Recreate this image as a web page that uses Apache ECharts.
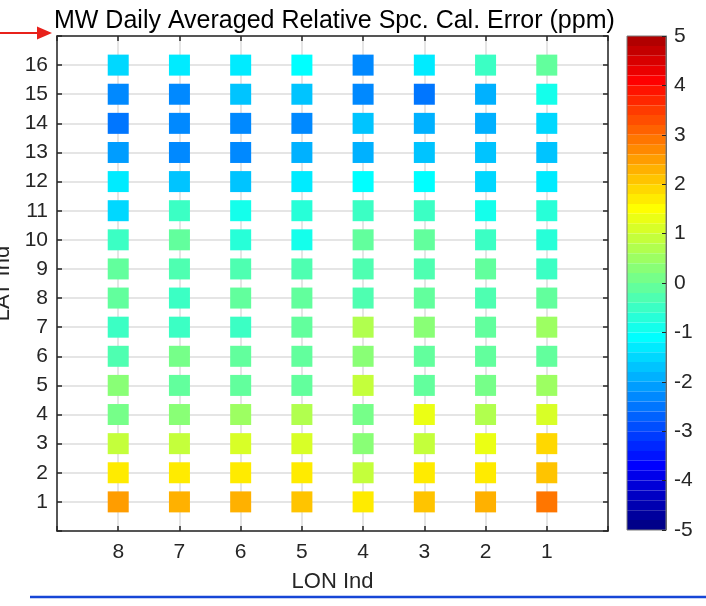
<!DOCTYPE html>
<html>
<head>
<meta charset="utf-8">
<script src="https://cdn.jsdelivr.net/npm/echarts@6/dist/echarts.min.js"></script>
<style>
  html, body { margin: 0; padding: 0; background: #fff; }
  #chart { width: 706px; height: 606px; }
</style>
</head>
<body>
<div id="chart"></div>
<script>
// Longitude indices in plotting order (left to right) and latitude indices (bottom to top)
const lonIdx = [8, 7, 6, 5, 4, 3, 2, 1];
const latIdx = [1, 2, 3, 4, 5, 6, 7, 8, 9, 10, 11, 12, 13, 14, 15, 16];
const cbarTicks = [-5, -4, -3, -2, -1, 0, 1, 2, 3, 4, 5];

// Daily averaged relative spectral calibration error (ppm), one row per LAT index,
// values ordered like lonIdx (LON 8 ... LON 1)
const lat1  = [2.47, 2.31, 2.31, 2.10, 1.73, 2.10, 2.31, 2.88];
const lat2  = [1.73, 1.73, 1.73, 1.73, 0.94, 1.73, 1.73, 2.10];
const lat3  = [0.94, 0.86, 1.10, 1.10, 0.20, 0.86, 1.27, 1.94];
const lat4  = [0.04, 0.20, 0.53, 0.69, 0.12, 1.27, 0.69, 1.10];
const lat5  = [0.20, -0.04, -0.04, -0.12, 0.94, -0.12, 0.12, 0.45];
const lat6  = [-0.37, 0.04, -0.20, -0.12, 0.37, -0.12, -0.04, -0.20];
const lat7  = [-0.45, -0.45, -0.45, -0.12, 0.70, 0.29, -0.04, 0.45];
const lat8  = [-0.04, -0.53, -0.04, -0.04, -0.37, -0.04, -0.28, -0.20];
const lat9  = [-0.04, -0.28, -0.28, -0.28, -0.28, -0.28, -0.04, -0.45];
const lat10 = [-0.45, -0.20, -0.69, -0.94, -0.04, -0.04, -0.53, -0.69];
const lat11 = [-1.54, -0.45, -0.94, -0.69, -0.53, -0.53, -0.94, -0.69];
const lat12 = [-1.33, -1.62, -1.79, -1.33, -1.10, -1.10, -1.58, -1.37];
const lat13 = [-2.07, -2.23, -2.31, -1.99, -1.83, -1.66, -1.74, -1.62];
const lat14 = [-2.56, -2.31, -2.36, -2.31, -1.79, -1.99, -1.97, -1.58];
const lat15 = [-2.31, -2.31, -1.62, -1.74, -2.40, -2.50, -1.97, -0.86];
const lat16 = [-1.42, -1.37, -1.37, -1.10, -2.40, -1.37, -0.45, -0.20];
const calError = [lat1, lat2, lat3, lat4, lat5, lat6, lat7, lat8,
                  lat9, lat10, lat11, lat12, lat13, lat14, lat15, lat16];

// MATLAB-style jet colormap with m levels
function jet(m) {
  const n = Math.ceil(m / 4);
  const u = [];
  for (let i = 1; i <= n; i++) u.push(i / n);
  for (let i = 1; i < n; i++) u.push(1);
  for (let i = n; i >= 1; i--) u.push(i / n);
  const off = Math.ceil(n / 2) - (m % 4 === 1 ? 1 : 0);
  const r = new Array(m).fill(0), g = new Array(m).fill(0), b = new Array(m).fill(0);
  for (let j = 0; j < u.length; j++) {
    const gi = off + j;          // 0-based
    const ri = gi + n, bi = gi - n;
    if (gi >= 0 && gi < m) g[gi] = u[j];
    if (ri >= 0 && ri < m) r[ri] = u[j];
    if (bi >= 0 && bi < m) b[bi] = u[j];
  }
  const out = [];
  for (let k = 0; k < m; k++) {
    out.push('rgb(' + Math.round(r[k] * 255) + ',' + Math.round(g[k] * 255) + ',' + Math.round(b[k] * 255) + ')');
  }
  return out;
}

const nLevels = 50;
const cmin = -5, cmax = 5;
const cmap = jet(nLevels);
const pieces = cmap.map((c, k) => {
  const lo = +(cmin + (cmax - cmin) * k / nLevels).toFixed(4);
  const hi = +(cmin + (cmax - cmin) * (k + 1) / nLevels).toFixed(4);
  return k === nLevels - 1 ? { gte: lo, lte: hi, color: c } : { gte: lo, lt: hi, color: c };
});

const points = [];
calError.forEach((row, i) => {
  row.forEach((v, j) => points.push([lonIdx[j], latIdx[i], v]));
});

const axisColor = '#262626';
const font = 'Liberation Sans, Arial, Helvetica, sans-serif';
const boxLine = { show: true, onZero: false, lineStyle: { color: axisColor, width: 1.5 } };
const innerTick = { show: true, inside: true, length: 5, lineStyle: { color: axisColor, width: 1.5 } };

const chart = echarts.init(document.getElementById('chart'), null, { renderer: 'canvas' });
chart.setOption({
  animation: false,
  backgroundColor: '#fff',
  title: {
    text: 'MW Daily Averaged Relative Spc. Cal. Error (ppm)',
    left: 49, top: 4,
    textStyle: { fontFamily: font, fontSize: 25, fontWeight: 'normal', color: '#000' }
  },
  grid: [
    { left: 57, top: 36, width: 551, height: 495, show: false,
      containLabel: false, outerBoundsMode: 'none' },
    { left: 627, top: 36, width: 39, height: 494, show: true, z: 10,
      containLabel: false, outerBoundsMode: 'none',
      borderColor: '#7a7a7a', borderWidth: 1, backgroundColor: 'transparent' }
  ],
  xAxis: [
    {
      gridIndex: 0, type: 'value', min: 0, max: 9, interval: 1, inverse: true, position: 'bottom',
      axisLine: boxLine,
      axisTick: innerTick,
      axisLabel: { fontFamily: font, fontSize: 21, color: axisColor, margin: 11,
        formatter: v => (v >= 1 && v <= 8 ? String(v) : '') },
      splitLine: { show: true, lineStyle: { color: '#e5e5e5', width: 2 } },
      name: 'LON Ind', nameLocation: 'middle', nameGap: 40,
      nameTextStyle: { fontFamily: font, fontSize: 22, color: axisColor }
    },
    {
      gridIndex: 0, type: 'value', min: 0, max: 9, interval: 1, inverse: true, position: 'top',
      axisLine: boxLine,
      axisTick: innerTick,
      axisLabel: { show: false }, splitLine: { show: false }
    },
    { gridIndex: 1, type: 'value', show: false, min: 0, max: 1 }
  ],
  yAxis: [
    {
      gridIndex: 0, type: 'value', min: 0, max: 17, interval: 1, position: 'left',
      axisLine: boxLine,
      axisTick: innerTick,
      axisLabel: { fontFamily: font, fontSize: 21, color: axisColor, margin: 9,
        formatter: v => (v >= 1 && v <= 16 ? String(v) : '') },
      splitLine: { show: true, lineStyle: { color: '#e5e5e5', width: 2 } },
      name: 'LAT Ind', nameLocation: 'middle', nameGap: 43,
      nameTextStyle: { fontFamily: font, fontSize: 22, color: axisColor }
    },
    {
      gridIndex: 0, type: 'value', min: 0, max: 17, interval: 1, position: 'right',
      axisLine: boxLine,
      axisTick: innerTick,
      axisLabel: { show: false }, splitLine: { show: false }
    },
    {
      gridIndex: 1, type: 'value', min: cmin, max: cmax, interval: 1, position: 'right', z: 10,
      axisLine: { show: true, onZero: false, lineStyle: { color: '#6a6a6a', width: 1 } },
      axisTick: { show: true, inside: true, length: 4, lineStyle: { color: axisColor, width: 1 } },
      axisLabel: { fontFamily: font, fontSize: 21, color: axisColor, margin: 8 },
      splitLine: { show: false },
      data: cbarTicks
    }
  ],
  visualMap: {
    type: 'piecewise',
    seriesIndex: 0,
    dimension: 2,
    pieces: pieces,
    orient: 'vertical',
    left: 627, top: 36,
    padding: 0,
    itemWidth: 39,
    itemHeight: 494 / nLevels,
    itemGap: 0,
    itemSymbol: 'rect',
    showLabel: false,
    hoverLink: false,
    selectedMode: false,
    textStyle: { fontSize: 0 }
  },
  series: [
    {
      type: 'scatter',
      xAxisIndex: 0, yAxisIndex: 0,
      symbol: 'rect',
      symbolSize: 21,
      data: points,
      emphasis: { disabled: true },
      itemStyle: { opacity: 1 }
    }
  ],
  graphic: [
    { type: 'line', shape: { x1: 0, y1: 33, x2: 40, y2: 33 },
      style: { stroke: '#e8211b', lineWidth: 2 } },
    { type: 'polygon', shape: { points: [[37, 26.5], [52, 33], [37, 39.5]] },
      style: { fill: '#e8211b' } },
    { type: 'line', shape: { x1: 30, y1: 597, x2: 706, y2: 597 },
      style: { stroke: '#1646d6', lineWidth: 2.5 } }
  ]
});
</script>
</body>
</html>
